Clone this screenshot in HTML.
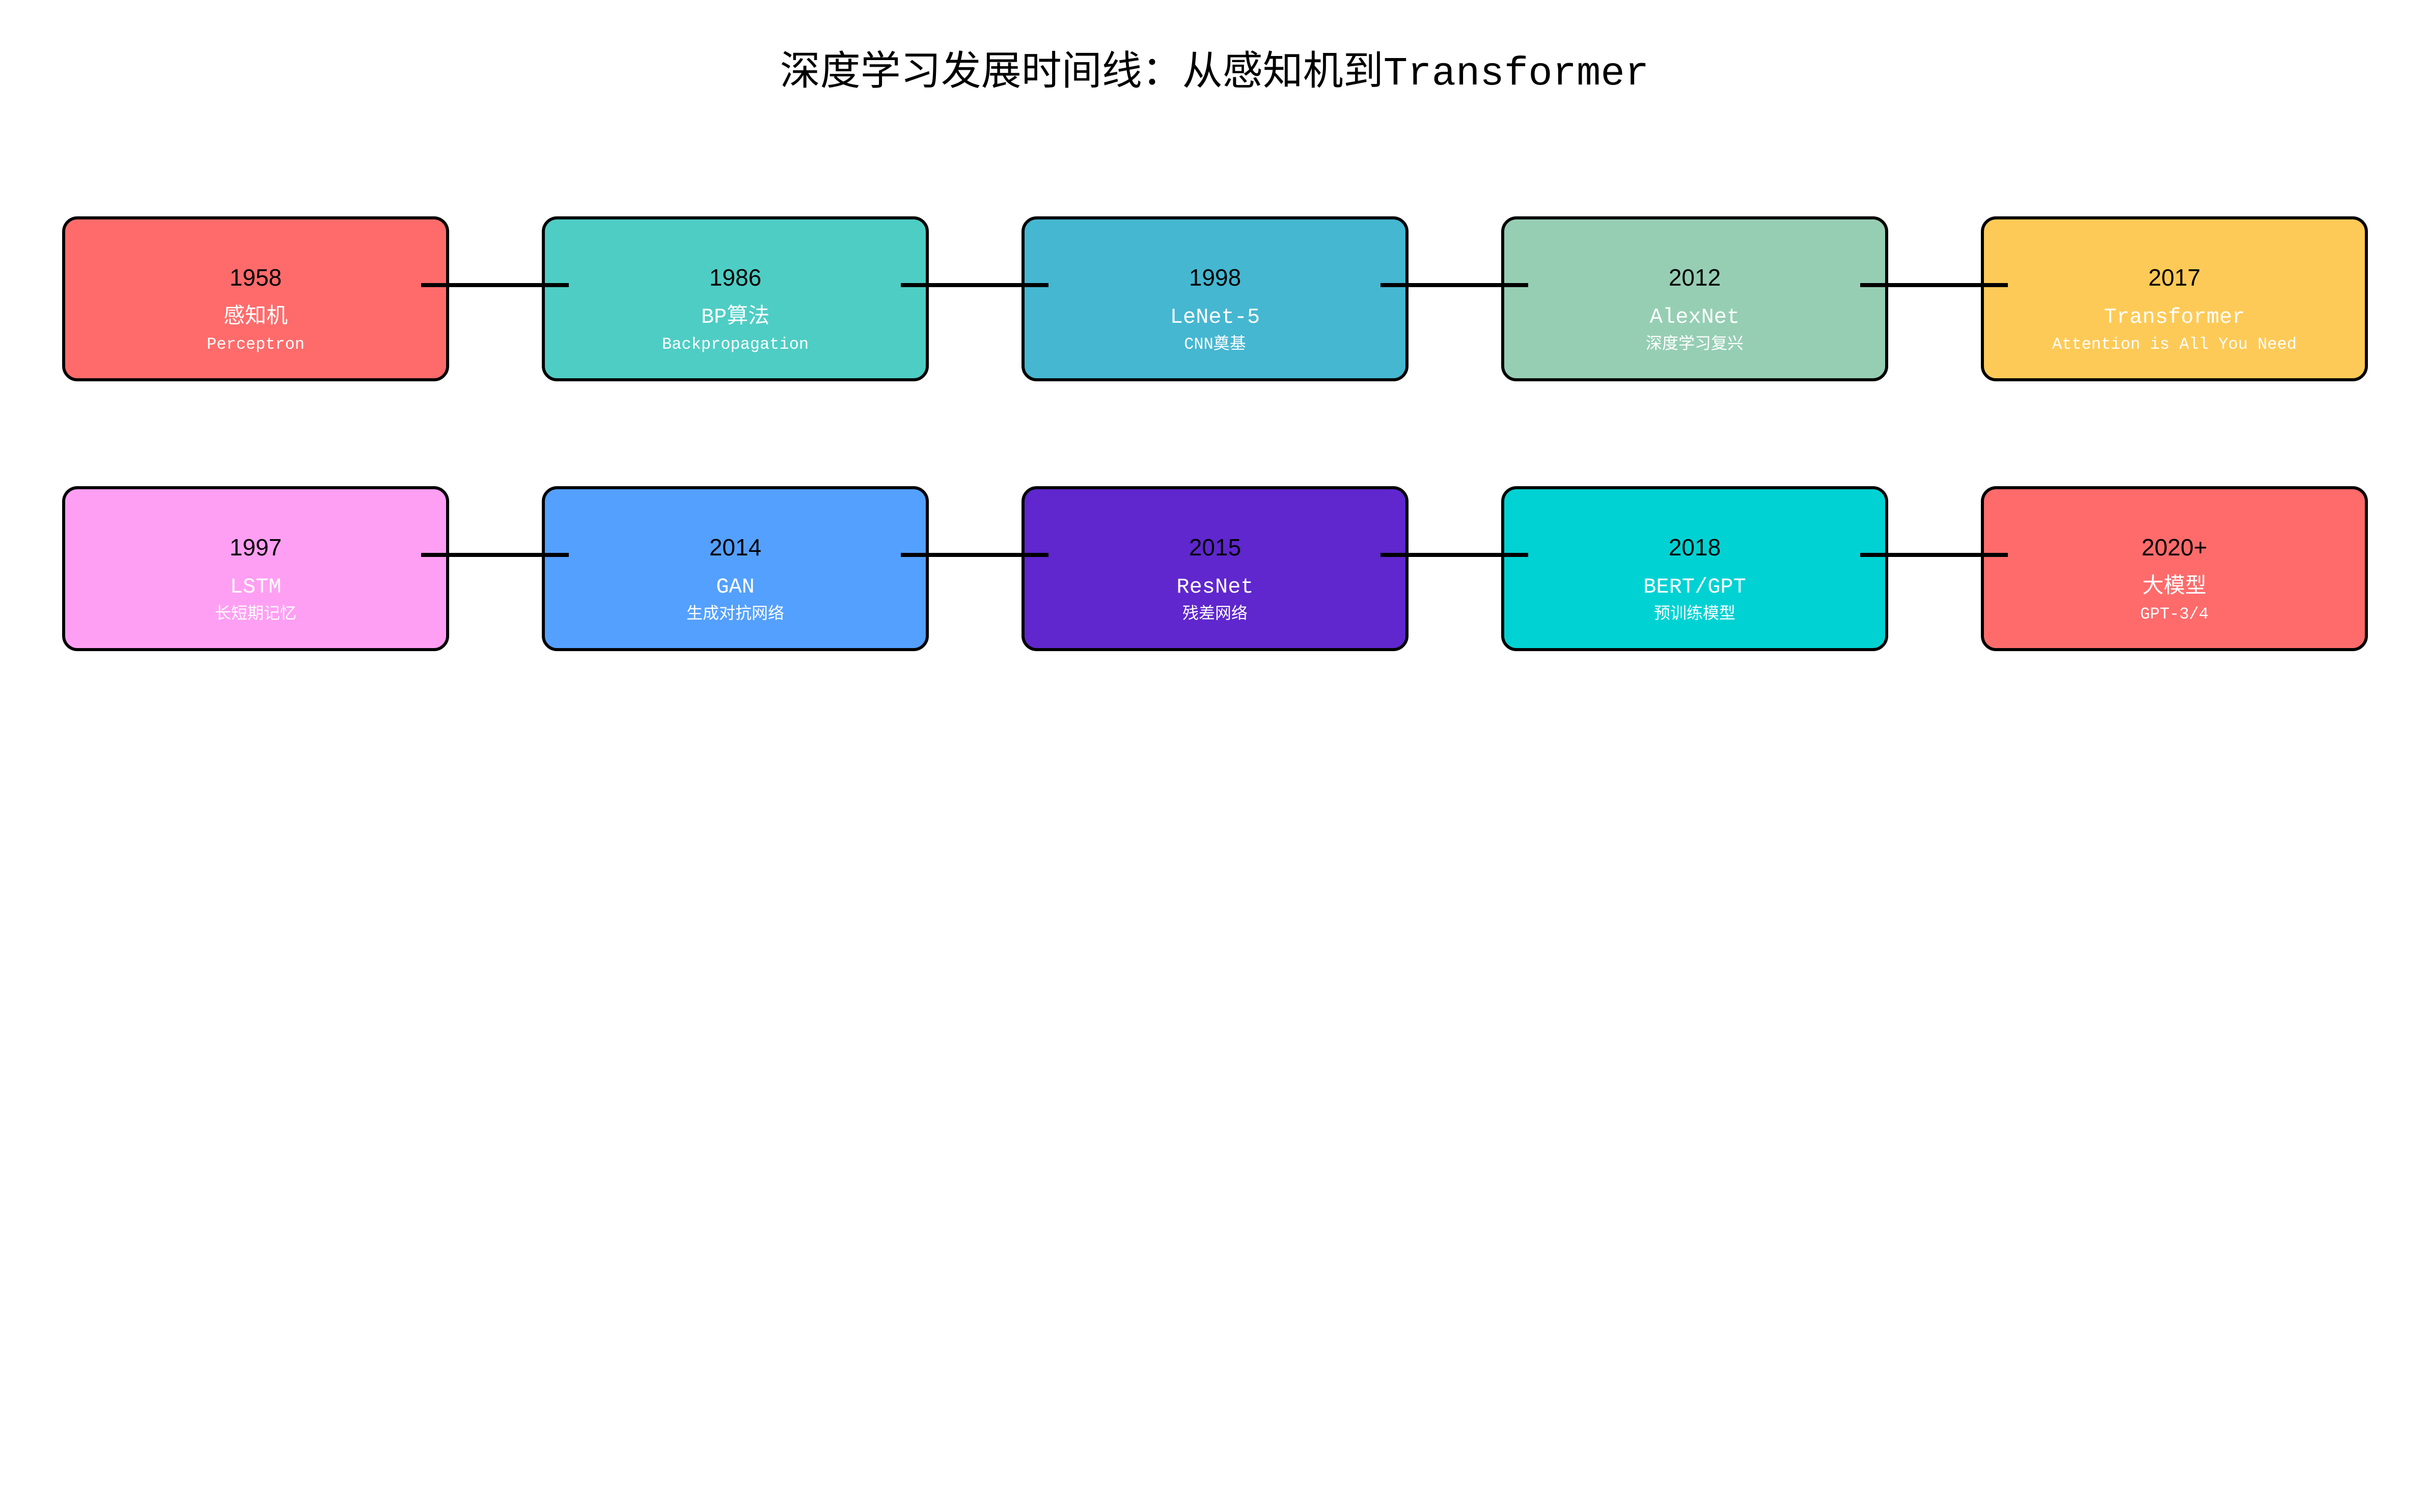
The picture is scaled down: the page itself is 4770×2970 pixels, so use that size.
<!DOCTYPE html>
<html><head><meta charset="utf-8"><style>
body{margin:0;width:4770px;height:2970px;background:#fff;position:relative;overflow:hidden;font-family:"Liberation Sans","WenQuanYi Zen Hei",sans-serif}
.t{position:absolute;left:0;width:4770px;top:74px;text-align:center;font-size:79px;font-family:"Liberation Mono","WenQuanYi Zen Hei",monospace;color:#000}
.b{position:absolute;width:748px;height:312px;border:6px solid #000;border-radius:30px;box-sizing:content-box;text-align:center}
.y{position:absolute;left:0;right:0;top:84px;font-size:46px;color:#000;line-height:60px}
.n{position:absolute;left:0;right:0;top:164px;font-size:42px;color:#fff;line-height:56px;font-family:"Liberation Mono","WenQuanYi Zen Hei",monospace}
.s{position:absolute;left:0;right:0;top:226px;font-size:32px;color:#fff;line-height:40px;font-family:"Liberation Mono","WenQuanYi Zen Hei",monospace}
.c{position:absolute;width:290px;height:8px;background:#000}
</style></head><body>
<div class="t">深度学习发展时间线：从感知机到Transformer</div>

<div class="b" style="left:122px;top:425px;background:#FF6B6B"><div class="y">1958</div><div class="n">感知机</div><div class="s">Perceptron</div></div>
<div class="b" style="left:1064px;top:425px;background:#4ECDC4"><div class="y">1986</div><div class="n">BP算法</div><div class="s">Backpropagation</div></div>
<div class="b" style="left:2006px;top:425px;background:#45B7D1"><div class="y">1998</div><div class="n">LeNet-5</div><div class="s">CNN奠基</div></div>
<div class="b" style="left:2948px;top:425px;background:#96CEB4"><div class="y">2012</div><div class="n">AlexNet</div><div class="s">深度学习复兴</div></div>
<div class="b" style="left:3890px;top:425px;background:#FECA57"><div class="y">2017</div><div class="n">Transformer</div><div class="s">Attention is All You Need</div></div>

<div class="b" style="left:122px;top:955px;background:#FF9FF3"><div class="y">1997</div><div class="n">LSTM</div><div class="s">长短期记忆</div></div>
<div class="b" style="left:1064px;top:955px;background:#54A0FF"><div class="y">2014</div><div class="n">GAN</div><div class="s">生成对抗网络</div></div>
<div class="b" style="left:2006px;top:955px;background:#5F27CD"><div class="y" style="color:#000">2015</div><div class="n">ResNet</div><div class="s">残差网络</div></div>
<div class="b" style="left:2948px;top:955px;background:#00D2D3"><div class="y">2018</div><div class="n">BERT/GPT</div><div class="s">预训练模型</div></div>
<div class="b" style="left:3890px;top:955px;background:#FF6B6B"><div class="y">2020+</div><div class="n">大模型</div><div class="s">GPT-3/4</div></div>

<div class="c" style="left:827px;top:556px"></div>
<div class="c" style="left:1769px;top:556px"></div>
<div class="c" style="left:2711px;top:556px"></div>
<div class="c" style="left:3653px;top:556px"></div>
<div class="c" style="left:827px;top:1086px"></div>
<div class="c" style="left:1769px;top:1086px"></div>
<div class="c" style="left:2711px;top:1086px"></div>
<div class="c" style="left:3653px;top:1086px"></div>
</body></html>
